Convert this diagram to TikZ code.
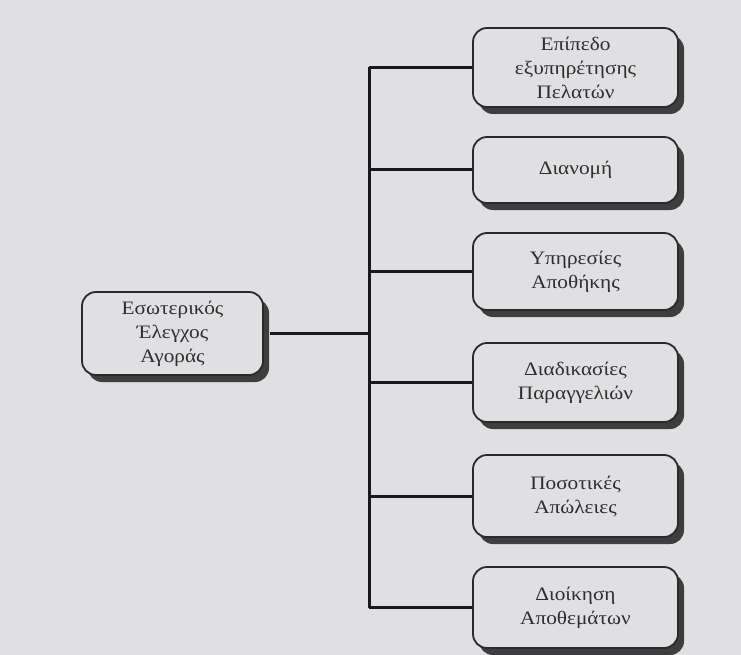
\documentclass[tikz,border=0pt]{standalone}
\usepackage{fontspec}
\setmainfont[FakeStretch=1.12]{Liberation Serif}
\usetikzlibrary{shadows}
\definecolor{bgc}{HTML}{E0E0E2}
\definecolor{txt}{HTML}{2E2E2E}
\definecolor{edge}{HTML}{2A2A2A}
\definecolor{shade}{HTML}{3E3E3E}
\tikzset{
  box/.style={draw=edge, line width=1.8pt, fill=bgc, rounded corners=14pt,
    align=center, text=txt, font=\fontsize{19}{24}\selectfont,
    drop shadow={shadow xshift=6pt, shadow yshift=-7pt, fill=shade, opacity=1}},
  rbox/.style={box, minimum width=205pt, text width=195pt},
  conn/.style={draw=black!90, line width=3pt}
}
\begin{document}
\begin{tikzpicture}[x=1pt,y=-1pt]
\fill[bgc] (0,0) rectangle (741,655);
\useasboundingbox (0,0) rectangle (741,655);
\coordinate (trunk) at (369,0);
\node[box, minimum width=181pt, minimum height=83pt, text width=172pt] (L) at (172.5,333.5) {Εσωτερικός\\Έλεγχος\\Αγοράς};
\node[rbox, minimum height=79pt] (b1) at (575.5,67.5) {Επίπεδο\\εξυπηρέτησης\\Πελατών};
\node[rbox, minimum height=66pt] (b2) at (575.5,170) {Διανομή};
\node[rbox, minimum height=77pt] (b3) at (575.5,271.5) {Υπηρεσίες\\Αποθήκης};
\node[rbox, minimum height=79pt] (b4) at (575.5,382.5) {Διαδικασίες\\Παραγγελιών};
\node[rbox, minimum height=82pt] (b5) at (575.5,496) {Ποσοτικές\\Απώλειες};
\node[rbox, minimum height=81pt] (b6) at (575.5,607.5) {Διοίκηση\\Αποθεμάτων};
\draw[conn] (b1.west -| trunk) -- (b6.west -| trunk);
\foreach \b in {b1,b2,b3,b4,b5,b6}{
  \draw[conn] (\b.west -| trunk) -- (\b.west);
}
\draw[conn] ([xshift=6pt]L.east) -- (L.east -| trunk);
\end{tikzpicture}
\end{document}
